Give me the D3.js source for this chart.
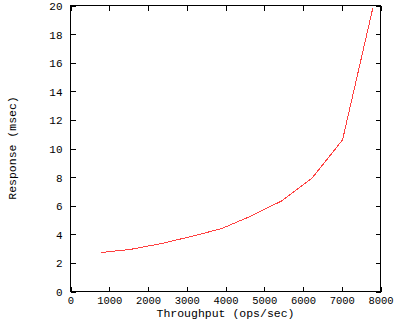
<!DOCTYPE html>
<html>
<head>
<meta charset="utf-8">
<script src="https://cdn.jsdelivr.net/npm/d3@7"></script>
<style>
    body { margin: 0; background: #fff; }
    svg text { font-family: "Liberation Mono", "DejaVu Sans Mono", monospace; font-size: 11px; fill: #000; }
    svg text.xlab { font-size: 10.5px; }
    svg text.title { font-size: 11.5px; }
</style>
</head>
<body>
<div id="chart"></div>
<script>
// throughput (ops/sec) vs response time (msec)
var throughput = [780, 1560, 2340, 3120, 3900, 4680, 5460, 6240, 7020, 7800];
var response = [2.72, 2.95, 3.35, 3.85, 4.4, 5.3, 6.35, 7.95, 10.6, 19.8];
var xTicks = [0, 1000, 2000, 3000, 4000, 5000, 6000, 7000, 8000];
var yTicks = [0, 2, 4, 6, 8, 10, 12, 14, 16, 18, 20];

(function () {
    var W = 400, H = 320;
    var left = 70, right = 380, top = 5, bottom = 291;
    var tick = 5;
    var fmt = d3.format("d");

    var svg = d3.select("#chart").append("svg")
        .attr("width", W)
        .attr("height", H);

    var x = d3.scaleLinear().domain([0, 8000]).range([left, right]);
    var y = d3.scaleLinear().domain([0, 20]).range([bottom, top]);

    var g = svg.append("g").attr("transform", "translate(0.5,0.5)");

    //--axes with inward ticks, labels only on bottom/left
    var xb = g.append("g").attr("transform", "translate(0," + bottom + ")")
        .call(d3.axisBottom(x).tickValues(xTicks).tickFormat(fmt).tickSizeInner(-tick).tickSizeOuter(0));
    var xt = g.append("g").attr("transform", "translate(0," + top + ")")
        .call(d3.axisTop(x).tickValues(xTicks).tickSizeInner(-tick).tickSizeOuter(0).tickFormat(""));
    var yl = g.append("g").attr("transform", "translate(" + left + ",0)")
        .call(d3.axisLeft(y).tickValues(yTicks).tickFormat(fmt).tickSizeInner(-tick).tickSizeOuter(0));
    var yr = g.append("g").attr("transform", "translate(" + right + ",0)")
        .call(d3.axisRight(y).tickValues(yTicks).tickSizeInner(-tick).tickSizeOuter(0).tickFormat(""));

    [xb, xt, yl, yr].forEach(function (a) {
        a.select(".domain").remove();
        a.selectAll("line").attr("stroke", "#000").attr("shape-rendering", "crispEdges");
        a.selectAll("text").attr("font-family", null).attr("font-size", null).attr("fill", "#000");
    });
    xb.selectAll("text").attr("class", "xlab").attr("dy", null).attr("y", 12.5);
    yl.selectAll("text").attr("dy", "0.36em").attr("x", -8);

    //--frame
    g.append("rect")
        .attr("x", left).attr("y", top)
        .attr("width", right - left).attr("height", bottom - top)
        .attr("fill", "none").attr("stroke", "#000")
        .attr("shape-rendering", "crispEdges");

    //--data line
    var line = d3.line()
        .x(function (d, i) { return x(throughput[i]); })
        .y(function (d) { return y(d); });
    g.append("path")
        .datum(response)
        .attr("d", line)
        .attr("fill", "none")
        .attr("stroke", "#ff4040")
        .attr("stroke-width", 1)
        .attr("shape-rendering", "crispEdges");

    //--axis titles
    svg.append("text")
        .attr("class", "title")
        .attr("x", (left + right) / 2 + 0.5).attr("y", 316.6)
        .attr("text-anchor", "middle")
        .text("Throughput (ops/sec)");
    svg.append("text")
        .attr("class", "title")
        .attr("transform", "translate(16," + ((top + bottom) / 2) + ") rotate(-90)")
        .attr("text-anchor", "middle")
        .text("Response (msec)");
})();
</script>
</body>
</html>
